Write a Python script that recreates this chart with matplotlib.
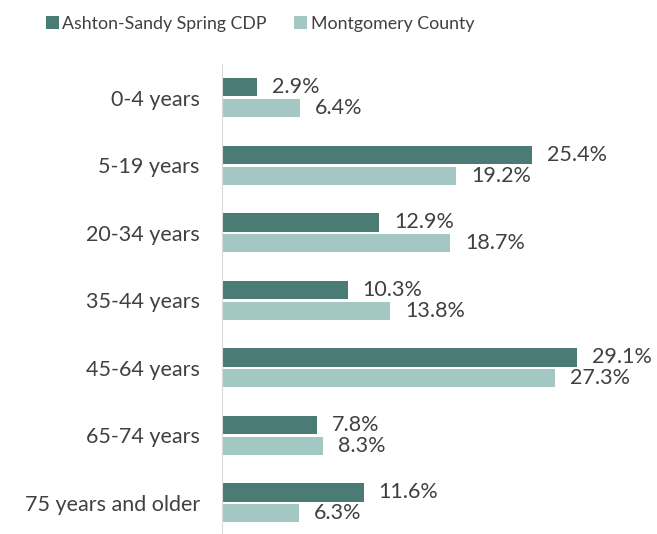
import numpy as np
import matplotlib.pyplot as plt

plt.rcParams['font.family'] = ['Lato', 'DejaVu Sans']

categories = ["0-4 years", "5-19 years", "20-34 years", "35-44 years",
              "45-64 years", "65-74 years", "75 years and older"]
ashton = [2.9, 25.4, 12.9, 10.3, 29.1, 7.8, 11.6]
montgomery = [6.4, 19.2, 18.7, 13.8, 27.3, 8.3, 6.3]

dark = "#4a7b75"
light = "#a3c8c3"
txt = "#404040"

fig = plt.figure(figsize=(6.57, 5.34), dpi=100)
ax = fig.add_axes([0.338, -0.005, 0.65, 0.885])

y = np.arange(len(categories))
h = 0.27
b1 = ax.barh(y - 0.155, ashton, height=h, color=dark, label="Ashton-Sandy Spring CDP")
b2 = ax.barh(y + 0.155, montgomery, height=h, color=light, label="Montgomery County")

for yy, v in zip(y, ashton):
    ax.text(v + 1.2, yy - 0.155, f"{v:.1f}%", va="center", ha="left", fontsize=15.5, color=txt)
for yy, v in zip(y, montgomery):
    ax.text(v + 1.2, yy + 0.155, f"{v:.1f}%", va="center", ha="left", fontsize=15.5, color=txt)

ax.set_yticks(y)
ax.set_yticklabels(categories, fontsize=15.5, color=txt)
ax.set_ylim(len(categories) - 0.5, -0.5)
ax.set_xlim(0, 35)
ax.set_xticks([])
ax.tick_params(axis="y", length=0, pad=16)
for s in ["top", "right", "bottom"]:
    ax.spines[s].set_visible(False)
ax.spines["left"].set_color("#d9d9d9")

fig.legend(handles=[b1, b2], loc="upper left", bbox_to_anchor=(0.045, 1.0), ncol=2,
           frameon=False, fontsize=12.8, labelcolor=txt, handlelength=0.75, handleheight=0.75,
           handletextpad=0.2, columnspacing=1.5)

fig.savefig("out.png", dpi=100)
